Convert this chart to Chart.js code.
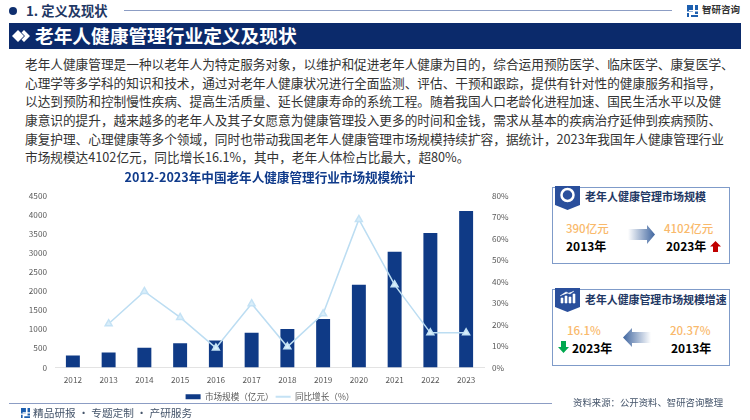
<!DOCTYPE html>
<html>
<head>
<meta charset="utf-8">
<script src="https://cdn.jsdelivr.net/npm/chart.js@4"></script>
<style>
html, body { margin: 0; padding: 0; background: #fff; }
#page { position: relative; width: 750px; height: 420px; overflow: hidden; font-family: "Noto Sans CJK SC", sans-serif; }
#page > * { position: absolute; }
.t { white-space: nowrap; line-height: 1; }
.line { left: 25px; font-size: 12.67px; color: #333; white-space: nowrap; line-height: 1; }
.panel { left: 552px; width: 176px; border: 1.5px solid #7F9BC9; background: #fff; }
.ptitle { font-weight: 700; font-size: 11px; color: #1F3864; left: 585px; }
.num { font-size: 11.5px; color: #F9B96B; font-weight: 500; }
.yr { font-size: 12px; color: #000; font-weight: 700; }
</style>
</head>
<body>
<div id="page">
  <div style="left:9px;top:7px;width:8px;height:8px;border-radius:50%;background:#0F2F6F"></div>
  <div class="t" style="left:26px;top:4px;font-size:13.3px;font-weight:700;color:#1F3864">1. 定义及现状</div>
  <div style="left:124px;top:9.5px;width:548px;height:1.5px;background:#8C9DC4"></div>
  <svg style="left:687px;top:5px" width="11" height="12" viewBox="0 0 11 12"><path d="M0 0H6V5H2V7H6V6.5H0M8 0H11V5H8ZM0 8H2V12H0ZM4 10H11V12H4ZM8 6.5H11V9H8Z" fill="#1D5FAF"/></svg>
  <div class="t" style="left:702px;top:5px;font-size:9.5px;font-weight:700;color:#333">智研咨询</div>

  <div style="left:9px;top:22.5px;width:732px;height:26px;background:#0B2A6B"></div>
  <svg style="left:12px;top:30px" width="18" height="12" viewBox="0 0 18 12"><path d="M6 0L12 6L6 12L0 6Z" fill="#fff"/><path d="M12 0L18 6L12 12L9.5 9.5L13 6L9.5 2.5Z" fill="#fff"/></svg>
  <div class="t" style="left:35px;top:26px;font-size:18.7px;font-weight:700;color:#fff">老年人健康管理行业定义及现状</div>

  <div id="para"></div>

  <canvas id="marketChart" style="left:0;top:165px"></canvas>

  <div class="panel" style="top:187px;height:75px"></div>
  <svg style="left:555px;top:186px" width="25" height="24" viewBox="0 0 25 24"><path d="M0 0H25V19L12.5 24L0 19Z" fill="#2A4F9C"/><circle cx="12.5" cy="9" r="6" fill="none" stroke="#fff" stroke-width="2.5"/></svg>
  <div class="t ptitle" style="top:191px">老年人健康管理市场规模</div>
  <div class="t num" style="left:566px;top:223px">390亿元</div>
  <div class="t yr" style="left:566px;top:240px">2013年</div>
  <svg style="left:628px;top:225px" width="28" height="19" viewBox="0 0 28 19"><defs><linearGradient id="ga"><stop offset="0" stop-color="#fff"/><stop offset="1" stop-color="#3F659F"/></linearGradient></defs><path d="M0 4H19V0L27 9.5L19 19V15H0Z" fill="url(#ga)"/></svg>
  <div class="t num" style="left:664px;top:223px">4102亿元</div>
  <div class="t yr" style="left:666px;top:240px">2023年</div>
  <svg style="left:710px;top:241px" width="11" height="11" viewBox="0 0 11 11"><path d="M5.5 0L11 5.5H8V11H3V5.5H0Z" fill="#C00000"/></svg>

  <div class="panel" style="top:289px;height:75px"></div>
  <svg style="left:555px;top:288px" width="25" height="24" viewBox="0 0 25 24"><path d="M0 0H25V19L12.5 24L0 19Z" fill="#2A4F9C"/><path d="M6 15V10H8V15ZM10 15V8H12V15ZM14 15V9H16V15ZM18 15V6H20V15ZM5 8L11 4L15 6L19 3" fill="#fff" stroke="#fff" stroke-width=".6"/></svg>
  <div class="t ptitle" style="top:294px;font-size:10.9px">老年人健康管理市场规模增速</div>
  <div class="t num" style="left:567px;top:325px">16.1%</div>
  <div class="t yr" style="left:572px;top:342px">2023年</div>
  <svg style="left:558px;top:341px" width="11" height="12" viewBox="0 0 11 12"><path d="M3 0H8V6H11L5.5 12L0 6H3Z" fill="#00A84F"/></svg>
  <svg style="left:623px;top:328px" width="28" height="19" viewBox="0 0 28 19"><defs><linearGradient id="gb"><stop offset="0" stop-color="#3F659F"/><stop offset="1" stop-color="#fff"/></linearGradient></defs><path d="M28 4H9V0L0 9.5L9 19V15H28Z" fill="url(#gb)"/></svg>
  <div class="t num" style="left:670px;top:325px">20.37%</div>
  <div class="t yr" style="left:671px;top:342px">2013年</div>

  <div style="left:9px;top:402.5px;width:543px;height:1.5px;background:#8C9DC4"></div>
  <svg style="left:21px;top:408px" width="9" height="10" viewBox="0 0 11 12"><path d="M0 0H6V5H2V7H6V6.5H0M8 0H11V5H8ZM0 8H2V12H0ZM4 10H11V12H4ZM8 6.5H11V9H8Z" fill="#1D5FAF"/></svg>
  <div class="t" style="left:33px;top:408px;font-size:10.7px;color:#44546A">精品研报 · 专题定制 · 产研服务</div>
  <div class="t" style="left:573px;top:398px;font-size:9.4px;color:#44546A">资料来源：公开资料、智研咨询整理</div>
</div>

<script>
const paragraphLines = [
    '老年人健康管理是一种以老年人为特定服务对象，以维护和促进老年人健康为目的，综合运用预防医学、临床医学、康复医学、',
    '心理学等多学科的知识和技术，通过对老年人健康状况进行全面监测、评估、干预和跟踪，提供有针对性的健康服务和指导，',
    '以达到预防和控制慢性疾病、提高生活质量、延长健康寿命的系统工程。随着我国人口老龄化进程加速、国民生活水平以及健',
    '康意识的提升，越来越多的老年人及其子女愿意为健康管理投入更多的时间和金钱，需求从基本的疾病治疗延伸到疾病预防、',
    '康复护理、心理健康等多个领域，同时也带动我国老年人健康管理市场规模持续扩容，据统计，2023年我国年人健康管理行业',
    '市场规模达4102亿元，同比增长16.1%，其中，老年人体检占比最大，超80%。'
];

const years = ['2012', '2013', '2014', '2015', '2016', '2017', '2018', '2019', '2020', '2021', '2022', '2023'];
const marketSize = [313, 390, 515, 635, 705, 906, 1010, 1272, 2170, 3030, 3526, 4102];
const growthRate = [null, 20.37, 35.4, 23.3, 9.1, 29.7, 9.6, 25, 69, 38.5, 16.1, 16.1];

const chartTitle = '2012-2023年中国老年人健康管理行业市场规模统计';
const barLabel = '市场规模（亿元）';
const lineLabel = '同比增长（%）';

const fontFamily = '"Noto Sans CJK SC", sans-serif';

const para = document.getElementById('para');
paragraphLines.forEach((text, i) => {
    const div = document.createElement('div');
    div.className = 'line';
    div.style.position = 'absolute';
    div.style.top = (58 + i * 18.67) + 'px';
    div.textContent = text;
    para.appendChild(div);
});

const canvas = document.getElementById('marketChart');
canvas.width = 540;
canvas.height = 246;

new Chart(canvas, {
    data: {
        labels: years,
        datasets: [
            {
                type: 'line',
                label: lineLabel,
                data: growthRate,
                yAxisID: 'y1',
                borderColor: '#BCDDF2',
                borderWidth: 1.5,
                backgroundColor: '#D6ECF9',
                pointStyle: 'triangle',
                pointRadius: 4,
                pointBorderColor: '#C4E2F5',
                pointBackgroundColor: '#D9EEFA',
                tension: 0,
                order: 1
            },
            {
                type: 'bar',
                label: barLabel,
                data: marketSize,
                yAxisID: 'y',
                backgroundColor: '#0F3A86',
                categoryPercentage: 1,
                barPercentage: 0.39,
                order: 2
            }
        ]
    },
    options: {
        responsive: false,
        animation: false,
        layout: { padding: 0 },
        scales: {
            x: {
                grid: { display: false },
                border: { color: '#E3E3E3' },
                ticks: { color: '#595959', font: { family: fontFamily, size: 8.2 }, padding: 0 },
                afterFit: s => { s.height = 23; }
            },
            y: {
                position: 'left',
                min: 0,
                max: 4500,
                grid: { display: false },
                border: { display: false },
                ticks: { stepSize: 500, color: '#595959', font: { family: fontFamily, size: 8.2 }, padding: 0, callback: v => String(v) },
                afterFit: s => { s.width = 55; }
            },
            y1: {
                position: 'right',
                min: 0,
                max: 80,
                grid: { display: false },
                border: { display: false },
                ticks: { stepSize: 10, color: '#595959', font: { family: fontFamily, size: 8.2 }, padding: 0, callback: v => v + '%' },
                afterFit: s => { s.width = 56; }
            }
        },
        plugins: {
            title: {
                display: true,
                text: chartTitle,
                color: '#103B8B',
                font: { family: fontFamily, size: 12.6, weight: 'bold' },
                padding: { top: 5, bottom: 10.7 }
            },
            legend: {
                position: 'bottom',
                reverse: true,
                labels: {
                    color: '#595959',
                    font: { family: fontFamily, size: 8.6 },
                    usePointStyle: true,
                    boxWidth: 15,
                    boxHeight: 5,
                    pointStyleWidth: 15,
                    padding: 2,
                    generateLabels: chart => Chart.defaults.plugins.legend.labels.generateLabels(chart).map(item => {
                        item.pointStyle = item.text === lineLabel ? 'line' : 'rect';
                        item.lineWidth = item.text === lineLabel ? 2 : 0;
                        return item;
                    })
                }
            },
            tooltip: { enabled: false }
        }
    }
});
</script>
</body>
</html>
